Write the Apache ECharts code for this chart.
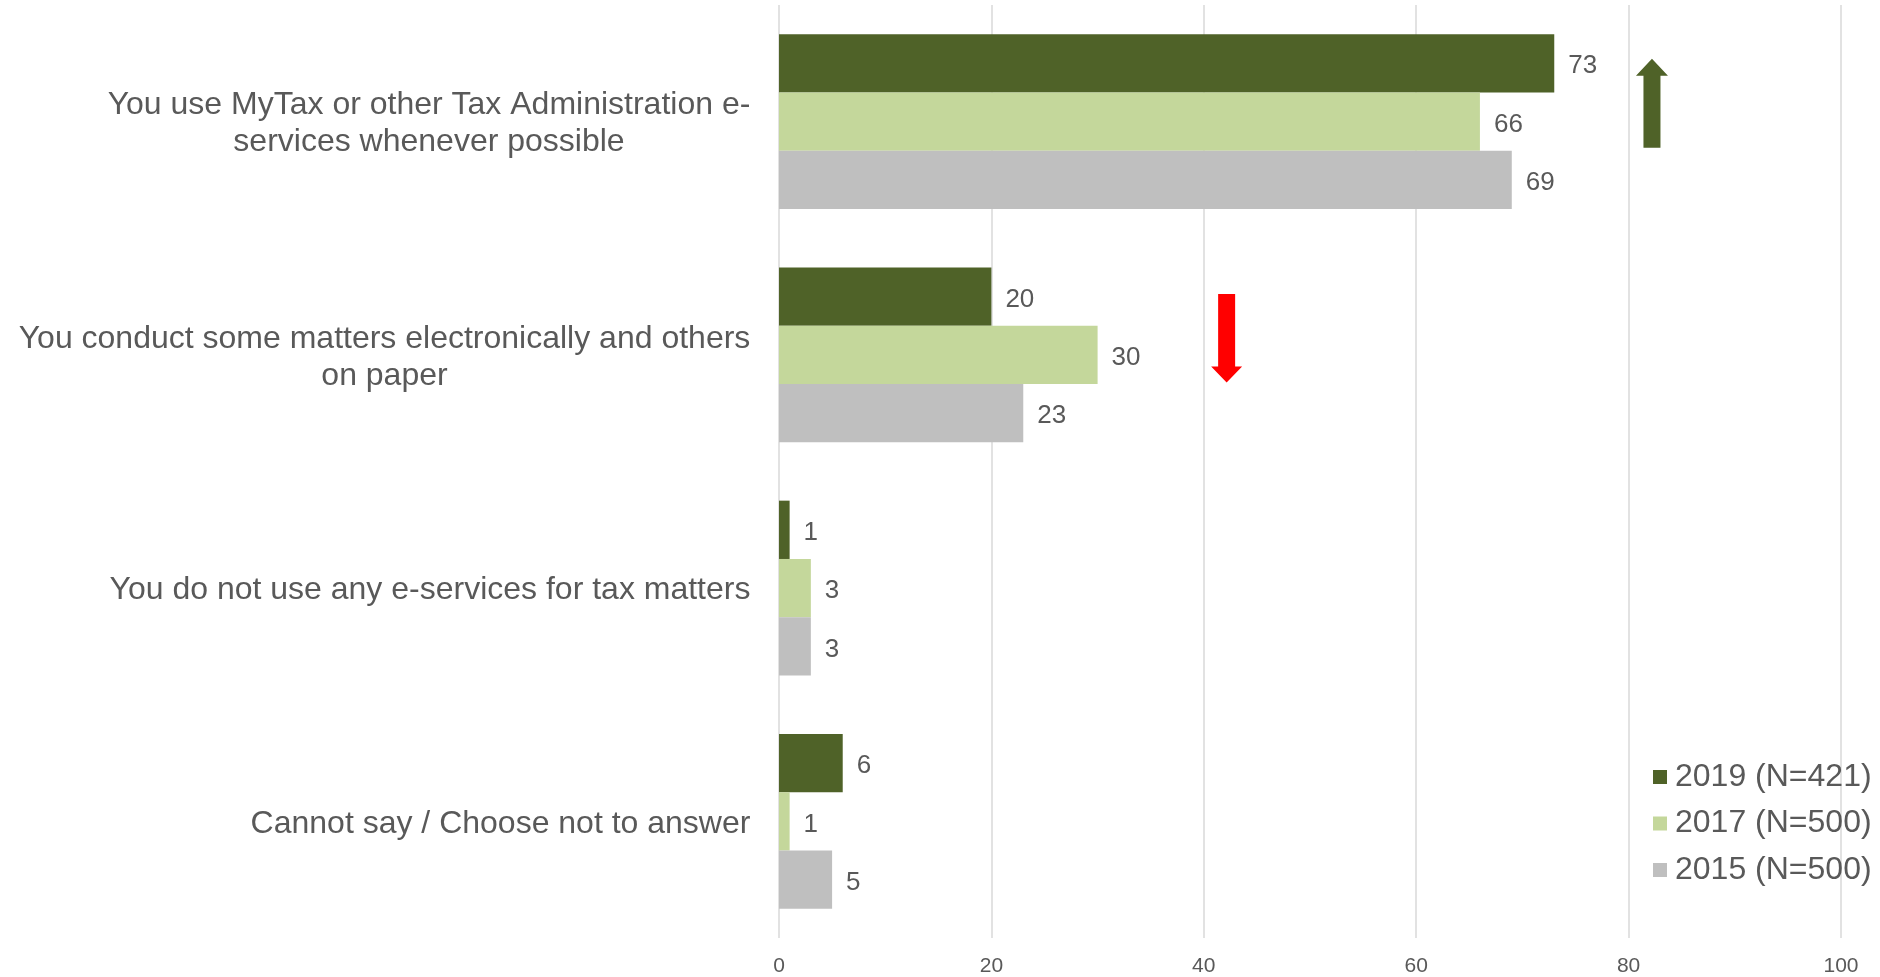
<!DOCTYPE html>
<html>
<head>
<meta charset="utf-8">
<title>Use of tax e-services</title>
<script src="https://cdn.jsdelivr.net/npm/echarts@6/dist/echarts.min.js"></script>
<style>
  html, body { margin: 0; padding: 0; background: #ffffff; }
  #chart { width: 1880px; height: 977px; }
</style>
</head>
<body>
<div id="chart"></div>
<script>
// Survey answers (share of respondents, %)
const categories = [
  'You use MyTax or other Tax Administration e-\nservices whenever possible',
  'You conduct some matters electronically and others\non paper',
  'You do not use any e-services for tax matters',
  'Cannot say / Choose not to answer'
];
const seriesNames = ['2019 (N=421)', '2017 (N=500)', '2015 (N=500)'];
const values2019 = [73, 20, 1, 6];
const values2017 = [66, 30, 3, 1];
const values2015 = [69, 23, 3, 5];
const xTicks = [0, 20, 40, 60, 80, 100];

const FONT = '"Liberation Sans", Arial, Helvetica, sans-serif';
const TEXT = '#595959';
const COLORS = ['#4f6228', '#c4d79b', '#bfbfbf'];
const CAT_SIZE = 32;

// Multi-line labels are centred line by line inside a right-aligned block,
// so each label gets a rich style whose width is its longest line.
const measure = document.createElement('canvas').getContext('2d');
measure.font = CAT_SIZE + 'px ' + FONT;
const rich = {};
categories.forEach((c, i) => {
  const w = Math.max(...c.split('\n').map(l => measure.measureText(l).width));
  rich['c' + i] = {
    width: Math.ceil(w) + 1, align: 'center',
    fontSize: CAT_SIZE, lineHeight: 37, color: TEXT, fontFamily: FONT
  };
});

const chart = echarts.init(document.getElementById('chart'), null, { renderer: 'canvas' });

const barSeries = [values2019, values2017, values2015].map((vals, i) => ({
  name: seriesNames[i],
  type: 'bar',
  data: vals,
  barGap: '0%',
  barCategoryGap: '25%',
  itemStyle: { color: COLORS[i] },
  label: {
    show: true, position: 'right', distance: 14, offset: [0, 3],
    fontSize: 26, color: TEXT, fontFamily: FONT
  },
  emphasis: { disabled: true }
}));

chart.setOption({
  animation: false,
  textStyle: { fontFamily: FONT },
  grid: { left: 779, right: 39, top: 5, bottom: 37, containLabel: false },
  legend: {
    orient: 'vertical',
    left: 1653, top: 759,
    padding: 0,
    itemWidth: 14, itemHeight: 14, itemGap: 10.5,
    icon: 'rect',
    selectedMode: false,
    textStyle: { fontSize: 32, lineHeight: 36, color: TEXT, fontFamily: FONT, padding: [0, 0, 0, 3] },
    data: seriesNames
  },
  xAxis: {
    type: 'value',
    min: xTicks[0], max: xTicks[xTicks.length - 1], interval: xTicks[1] - xTicks[0],
    axisLine: { show: false },
    axisTick: { show: false },
    axisLabel: { fontSize: 21, color: TEXT, margin: 18, fontFamily: FONT },
    splitLine: { show: true, lineStyle: { color: '#d9d9d9', width: 1.5 } }
  },
  yAxis: {
    type: 'category',
    inverse: true,
    data: categories,
    axisLine: { show: false },
    axisTick: { show: false },
    axisLabel: {
      margin: 28,
      align: 'right',
      padding: [5, 0, 0, 0],
      formatter: (value) => {
        const i = categories.indexOf(value);
        return value.split('\n').map(l => '{c' + i + '|' + l + '}').join('\n');
      },
      rich: rich
    }
  },
  series: barSeries
});

// Trend arrows beside the first two answers
function arrowShapes() {
  const upX = chart.convertToPixel({ xAxisIndex: 0 }, 82.2);
  const downX = chart.convertToPixel({ xAxisIndex: 0 }, 42.15);
  const row0 = chart.convertToPixel({ yAxisIndex: 0 }, categories[0]);
  const row1 = chart.convertToPixel({ yAxisIndex: 0 }, categories[1]);
  const up = [
    [upX, row0 - 63], [upX + 16, row0 - 46], [upX + 8.5, row0 - 46],
    [upX + 8.5, row0 + 26], [upX - 8.5, row0 + 26], [upX - 8.5, row0 - 46],
    [upX - 16, row0 - 46]
  ];
  const down = [
    [downX - 8.5, row1 - 61], [downX + 8.5, row1 - 61], [downX + 8.5, row1 + 11.5],
    [downX + 15.5, row1 + 11.5], [downX, row1 + 27.5], [downX - 15.5, row1 + 11.5],
    [downX - 8.5, row1 + 11.5]
  ];
  return [
    { type: 'polygon', shape: { points: up }, style: { fill: '#4f6228' }, silent: true },
    { type: 'polygon', shape: { points: down }, style: { fill: '#ff0000' }, silent: true }
  ];
}
chart.setOption({ graphic: arrowShapes() });
</script>
</body>
</html>
